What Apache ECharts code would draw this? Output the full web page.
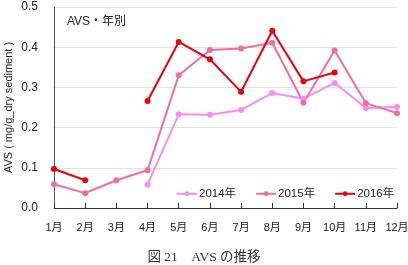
<!DOCTYPE html>
<html>
<head>
<meta charset="utf-8">
<script src="https://cdn.jsdelivr.net/npm/echarts@6/dist/echarts.min.js"></script>
<style>
  html, body { margin: 0; padding: 0; background: #fff; }
  #chart { width: 408px; height: 265px; }
</style>
</head>
<body>
<div id="chart"></div>
<script>
// 月ラベル
const months = ["1月", "2月", "3月", "4月", "5月", "6月", "7月", "8月", "9月", "10月", "11月", "12月"];
// AVS (mg/g_dry sediment) 年別
const avs2014 = [null, null, null, 0.058, 0.233, 0.232, 0.244, 0.286, 0.272, 0.311, 0.249, 0.251];
const avs2015 = [0.059, 0.037, 0.069, 0.094, 0.330, 0.393, 0.397, 0.411, 0.262, 0.392, 0.261, 0.236];
const avs2016 = [0.097, 0.069, null, 0.266, 0.413, 0.370, 0.289, 0.441, 0.315, 0.337, null, null];
const yTicks = [0, 0.1, 0.2, 0.3, 0.4, 0.5];

const chart = echarts.init(document.getElementById("chart"));
const font = "'Liberation Sans', Arial, 'Noto Sans CJK JP', sans-serif";

const makeSeries = (name, data, color) => ({
  name,
  type: "line",
  data,
  connectNulls: false,
  symbol: "circle",
  symbolSize: 6,
  lineStyle: { color, width: 2 },
  itemStyle: { color },
});

chart.setOption({
  animation: false,
  textStyle: { fontFamily: font },
  grid: { left: 54, right: 11, top: 7, bottom: 57, outerBoundsMode: "none", containLabel: false },
  title: [
    {
      text: "AVS・年別",
      left: 62,
      top: 11,
      textStyle: { fontSize: 12, fontWeight: "normal", color: "#222", fontFamily: font },
    },
    {
      text: "図 21　AVS の推移",
      left: "center",
      top: 246,
      textStyle: {
        fontSize: 13.5,
        fontWeight: "normal",
        color: "#333",
        fontFamily: "'Liberation Serif', 'Noto Sans CJK JP', serif",
      },
    },
  ],
  legend: {
    left: 171,
    top: 183,
    itemWidth: 20,
    itemHeight: 6,
    itemGap: 19,
    textStyle: { fontSize: 11.5, color: "#222", padding: [0, 0, 0, -3] },
    data: ["2014年", "2015年", "2016年"],
  },
  xAxis: {
    type: "category",
    data: months,
    boundaryGap: false,
    axisLine: { lineStyle: { color: "#333", width: 1 } },
    axisTick: { show: true, length: 5, inside: true, interval: 0, lineStyle: { color: "#333" } },
    axisLabel: { fontSize: 11, color: "#222", margin: 14, interval: 0 },
  },
  yAxis: {
    type: "value",
    min: yTicks[0],
    max: yTicks[yTicks.length - 1],
    interval: 0.1,
    name: "AVS ( mg/g_dry sediment )",
    nameLocation: "middle",
    nameGap: 40,
    nameMoveOverlap: false,
    nameTextStyle: { fontSize: 11, color: "#222" },
    axisLine: { show: true, lineStyle: { color: "#555", width: 1 } },
    axisTick: { show: false },
    axisLabel: { fontSize: 12, color: "#222", margin: 16, formatter: (v) => v.toFixed(1) },
    splitLine: { lineStyle: { color: "#e2e2e2" } },
  },
  series: [
    makeSeries("2014年", avs2014, "#f58ef0"),
    makeSeries("2015年", avs2015, "#ef6f98"),
    makeSeries("2016年", avs2016, "#e8000b"),
  ],
});
</script>
</body>
</html>
